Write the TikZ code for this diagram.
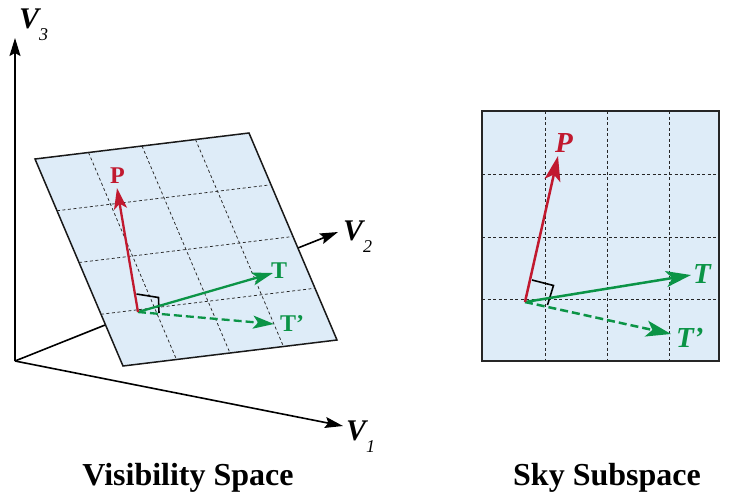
\documentclass[tikz,border=0pt]{standalone}
\usepackage{fontspec}
\setmainfont{Liberation Serif}
\usetikzlibrary{arrows.meta,calc}
\definecolor{vred}{HTML}{C1192F}
\definecolor{vgreen}{HTML}{0B9446}
\definecolor{vfill}{HTML}{DEECF8}
\tikzset{
  axisline/.style={line width=1.6pt, -{Stealth[length=18pt,width=11pt,inset=3pt]}},
  gridline/.style={black!85, line width=0.75pt, dash pattern=on 3pt off 2.5pt},
  vecL/.style={line width=2.3pt, -{Stealth[length=21pt,width=13pt,inset=5pt]}},
  vecR/.style={line width=2.5pt, -{Stealth[length=25pt,width=16pt,inset=6pt]}},
  redvec/.style={draw=vred},
  greenvec/.style={draw=vgreen},
  greendash/.style={draw=vgreen, dash pattern=on 8pt off 4pt},
  rightmark/.style={draw=black, line width=1.6pt},
  planeedge/.style={draw=black!90, line width=1.5pt, fill=vfill},
  vlabel/.style={font=\fontsize{30}{30}\selectfont\bfseries\itshape, inner sep=0pt, anchor=base west},
  leftlab/.style={font=\fontsize{24}{24}\selectfont\bfseries, inner sep=0pt, anchor=base west},
  rightlab/.style={font=\fontsize{29}{29}\selectfont\bfseries\itshape, inner sep=0pt, anchor=base west},
  title/.style={font=\fontsize{32}{32}\selectfont\bfseries, inner sep=0pt, anchor=base}
}
\newcommand{\vsub}[1]{\raisebox{-0.42em}{\fontsize{18}{18}\selectfont\mdseries\itshape #1}}
\begin{document}
\begin{tikzpicture}[x=1pt,y=-1pt]
\useasboundingbox (0,0) rectangle (748,499);
% axes
\coordinate (O) at (15,361);
\coordinate (V3tip) at (15,38);
\coordinate (V1tip) at (343,426);
\coordinate (V2tip) at (338,232);
\draw[axisline] (O) -- (V2tip);
\draw[axisline] (O) -- (V3tip);
\draw[axisline] (O) -- (V1tip);
\node[vlabel] (lV3) at (19,28) {V\vsub{3}};
\node[vlabel] (lV2) at (343,240) {V\vsub{2}};
\node[vlabel] (lV1) at (346,440) {V\vsub{1}};
% plane
\coordinate (A) at (35,159);
\coordinate (B) at (249,133);
\coordinate (C) at (337,340);
\coordinate (D) at (123,366);
\draw[planeedge] (A) -- (B) -- (C) -- (D) -- cycle;
\foreach \t in {0.25,0.5,0.75}{
  \draw[gridline] ($(A)!\t!(B)$) -- ($(D)!\t!(C)$);
  \draw[gridline] ($(A)!\t!(D)$) -- ($(B)!\t!(C)$);
}
\coordinate (Lo) at (138,312);
\coordinate (LP) at (117,188);
\coordinate (LT) at (273,273);
\coordinate (LTp) at (274,324);
\draw[rightmark] (136.5,294) -- (158.5,297.5) -- (159,313);
\draw[vecL, greendash] (Lo) -- (LTp);
\draw[vecL, greenvec] (Lo) -- (LT);
\draw[vecL, redvec] (Lo) -- (LP);
\node[leftlab, text=vred] (lP) at (110,183) {P};
\node[leftlab, text=vgreen] (lT) at (271,278) {T};
\node[leftlab, text=vgreen] (lTp) at (280,331) {T\textquoteright};
% right panel
\draw[draw=black!85, line width=2pt, fill=vfill] (482,111) rectangle (719,361);
\foreach \x in {545,607,669}{
  \draw[gridline] (\x,111) -- (\x,361);
}
\foreach \y in {174,237,299}{
  \draw[gridline] (482,\y) -- (719,\y);
}
\coordinate (Ro) at (525,302);
\coordinate (RP) at (558,156);
\coordinate (RT) at (691,275);
\coordinate (RTp) at (671,334);
\draw[rightmark] (532,280) -- (553.5,285.5) -- (547.5,305);
\draw[vecR, greendash] (Ro) -- (RTp);
\draw[vecR, greenvec] (Ro) -- (RT);
\draw[vecR, redvec] (Ro) -- (RP);
\node[rightlab, text=vred] (rP) at (555,152) {P};
\node[rightlab, text=vgreen] (rT) at (693,283) {T};
\node[rightlab, text=vgreen] (rTp) at (676,347) {T\textquoteright};
% titles
\node[title] (t1) at (188,485) {Visibility Space};
\node[title] (t2) at (607,485) {Sky Subspace};
\end{tikzpicture}
\end{document}
